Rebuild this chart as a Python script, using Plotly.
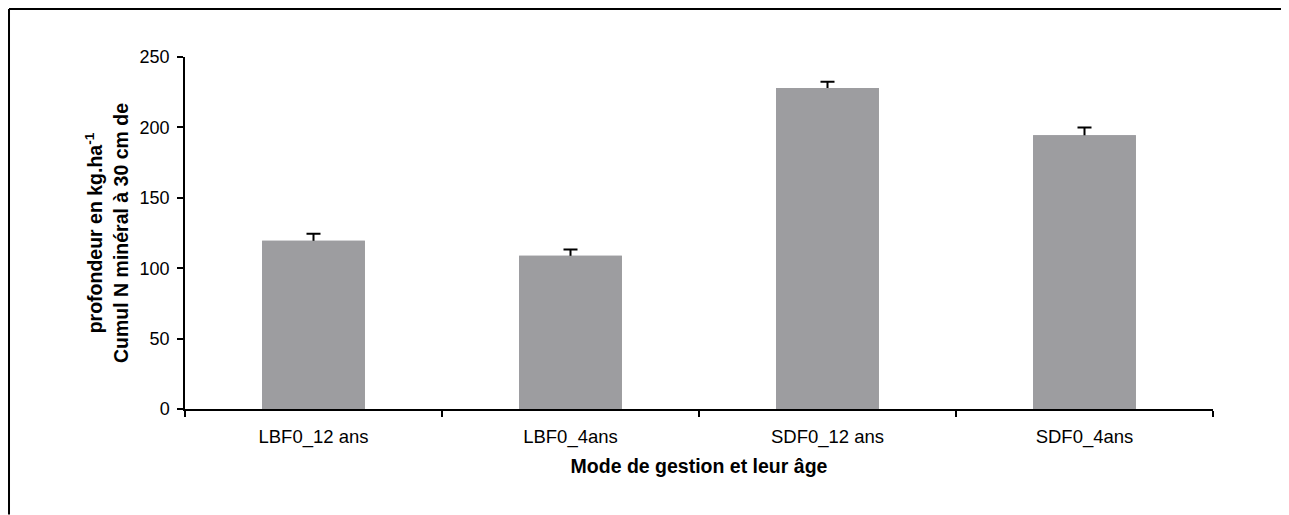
import plotly.graph_objects as go

categories = ["LBF0_12 ans", "LBF0_4ans", "SDF0_12 ans", "SDF0_4ans"]
values = [119.5, 108.8, 228.0, 194.5]
errors = [5.0, 4.5, 4.5, 5.5]
y_ticks = [0, 50, 100, 150, 200, 250]

bar_color = "#9d9da0"
font_family = "Liberation Sans, Arial, sans-serif"

fig = go.Figure()
# bar with error bars (plus direction only visible)
fig.add_trace(go.Bar(
    x=categories, y=values, width=0.4,
    marker=dict(color=bar_color, line=dict(width=0)),
    error_y=dict(type="data", symmetric=False, array=errors,
                 arrayminus=[2] * len(values),
                 color="black", thickness=2, width=7),
    hoverinfo="skip", showlegend=False,
))
# overlay to hide the minus part of the error bars
fig.add_trace(go.Bar(
    x=categories, y=values, width=0.4,
    marker=dict(color=bar_color, line=dict(width=0)),
    showlegend=False,
))

frame = dict(color="black", width=2)
fig.update_layout(
    width=1281, height=507,
    barmode="overlay",
    paper_bgcolor="white", plot_bgcolor="white",
    margin=dict(l=177, r=76, t=49, b=105.5),
    font=dict(family=font_family, color="black", size=18),
    xaxis=dict(
        showline=True, linecolor="black", linewidth=1.5,
        ticks="outside", ticklen=6, tickcolor="black", tickwidth=1.5,
        tickson="boundaries", showgrid=False,
        tickfont=dict(size=18.5), ticklabelstandoff=10,
        title=dict(text="<b>Mode de gestion et leur âge</b>",
                   font=dict(size=19.5), standoff=12),
    ),
    yaxis=dict(
        range=[0, 250], tickvals=y_ticks,
        showline=True, linecolor="black", linewidth=1.5,
        ticks="outside", ticklen=6, tickcolor="black", tickwidth=1.5,
        showgrid=False, zeroline=False,
        tickfont=dict(size=18), ticklabelstandoff=4,
        title=dict(text="<b>profondeur en kg.ha<sup>-1</sup><br>Cumul N minéral à 30 cm de</b>",
                   font=dict(size=19.5), standoff=6),
    ),
    shapes=[
        dict(type="line", xref="paper", yref="paper",
             x0=-0.1712, x1=1.074, y0=1.1362, y1=1.1362, line=frame, layer="below"),
        dict(type="line", xref="paper", yref="paper",
             x0=-0.1712, x1=-0.1712, y0=-0.3, y1=1.1362, line=frame, layer="below"),
    ],
)

fig.write_html("out.html")
